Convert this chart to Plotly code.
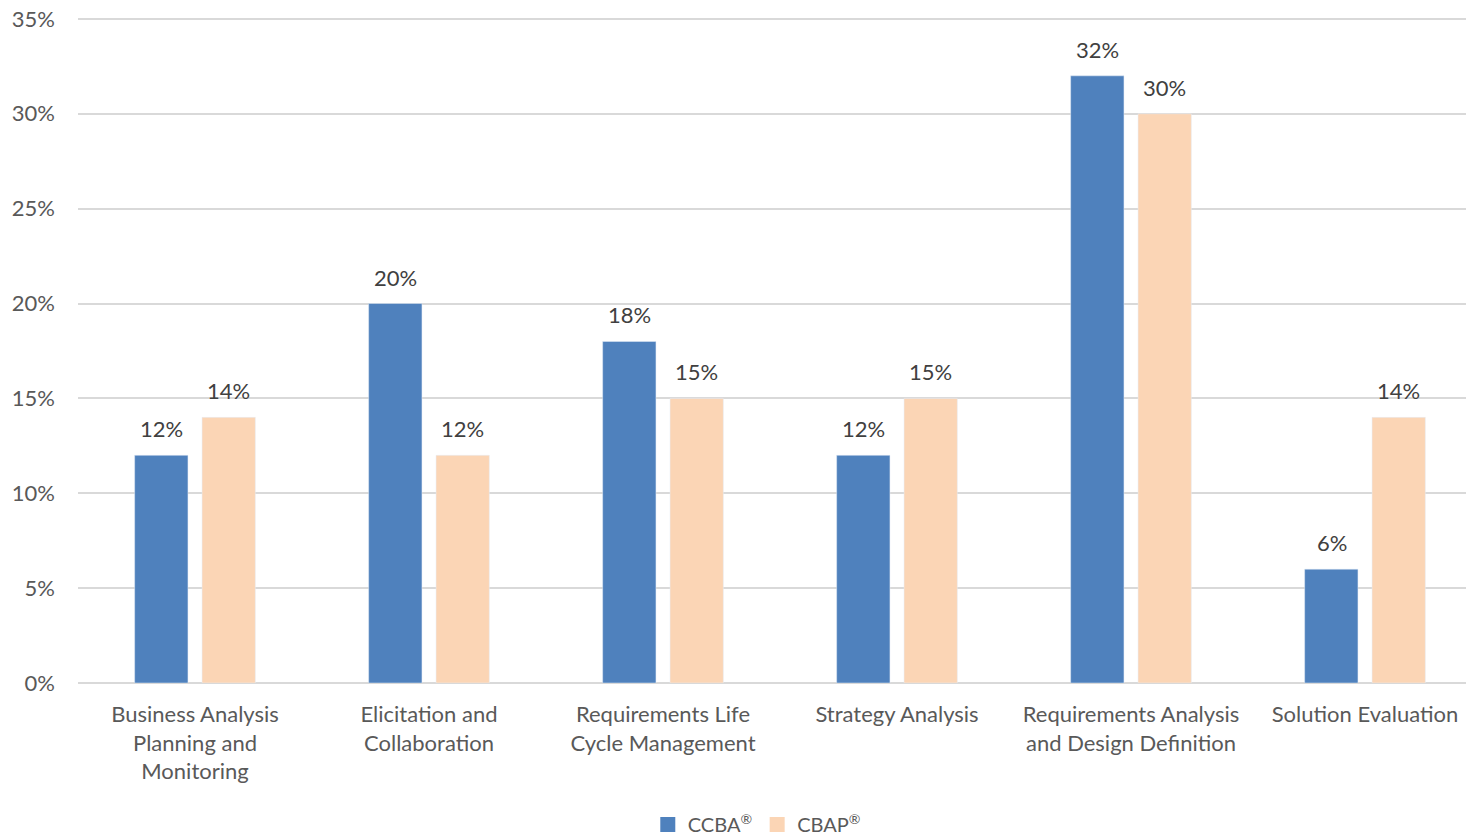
import plotly.graph_objects as go

categories = [
    "Business Analysis<br>Planning and<br>Monitoring",
    "Elicitation and<br>Collaboration",
    "Requirements Life<br>Cycle Management",
    "Strategy Analysis",
    "Requirements Analysis<br>and Design Definition",
    "Solution Evaluation",
]
ccba = [0.12, 0.20, 0.18, 0.12, 0.32, 0.06]
cbap = [0.14, 0.12, 0.15, 0.15, 0.30, 0.14]
series_names = ["CCBA<sup>®</sup>", "CBAP<sup>®</sup>"]
series_colors = ["#4F81BD", "#FBD5B5"]

FONT = "Lato, Open Sans, sans-serif"
TXT = "#595959"
FS = 22

fig = go.Figure()
for name, vals, col in zip(series_names, [ccba, cbap], series_colors):
    fig.add_trace(go.Bar(name=name, x=categories, y=vals, marker_color=col,
                         cliponaxis=False, showlegend=False, legendgroup=name))
# legend swatches (larger squares, as in the reference)
for name, col in zip(series_names, series_colors):
    fig.add_trace(go.Scatter(name=name, x=[None], y=[None], mode="markers",
                             marker=dict(symbol="square", size=15, color=col),
                             legendgroup=name, showlegend=True))

# data labels
for vals, shift in zip([ccba, cbap], [-33.5, 33.5]):
    for c, v in zip(categories, vals):
        fig.add_annotation(x=c, y=v, text=f"{v:.0%}", showarrow=False,
                           xshift=shift, yshift=11, yanchor="bottom",
                           font=dict(size=FS, color="#404040", family=FONT))

fig.update_layout(
    width=1474, height=834,
    paper_bgcolor="white", plot_bgcolor="white",
    margin=dict(l=70, r=0, t=9, b=159, autoexpand=False),
    barmode="group", bargap=0.424, bargroupgap=0.209,
    font=dict(family=FONT, size=FS, color=TXT),
    legend=dict(orientation="h", xref="container", yref="container",
                x=0.508, xanchor="center", y=0.021, yanchor="middle",
                font=dict(size=20, color=TXT), itemwidth=30),
    showlegend=True,
)
fig.update_yaxes(
    range=[0, 0.351], tickvals=[0, 0.05, 0.10, 0.15, 0.20, 0.25, 0.30, 0.35],
    tickformat=".0%", automargin=False, ticklabeloverflow="allow",
    showgrid=True, gridcolor="#D9D9D9", gridwidth=1.5,
    zeroline=True, zerolinecolor="#D9D9D9", zerolinewidth=1.5,
    ticklabelstandoff=22, tickfont=dict(size=FS, color=TXT),
)
fig.update_xaxes(
    showline=False, automargin=False, tickfont=dict(size=FS, color=TXT),
    ticklabelstandoff=16, ticklabeloverflow="allow",
)

fig.write_html("out.html")
